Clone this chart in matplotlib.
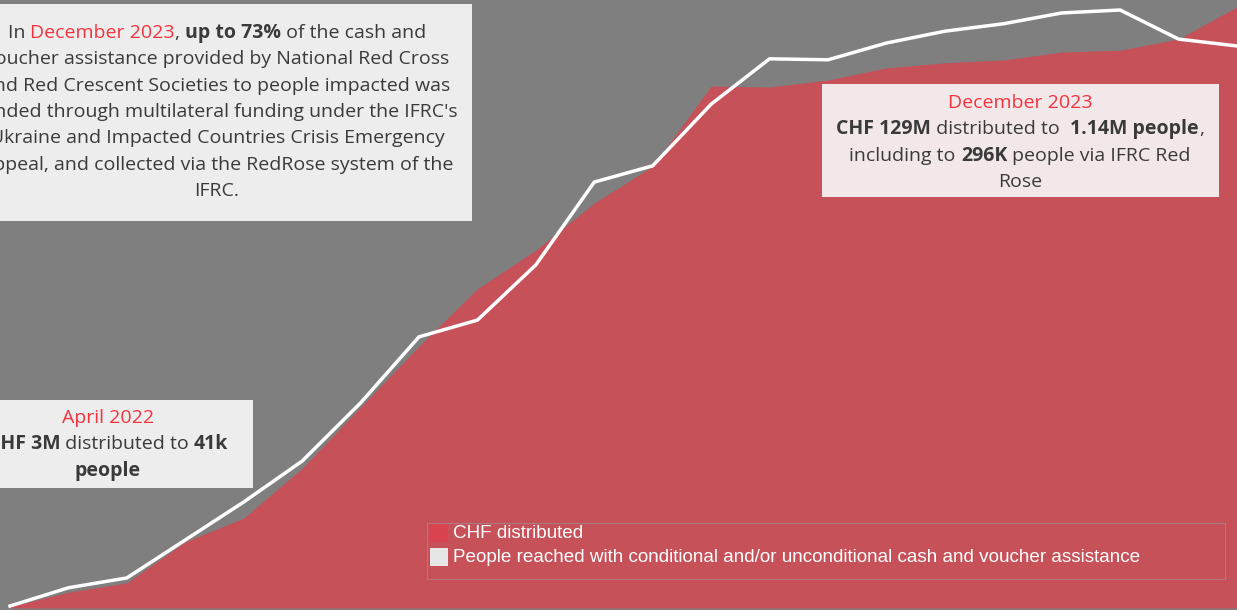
import numpy as np
import matplotlib
matplotlib.use('Agg')
import matplotlib.pyplot as plt
from matplotlib.patches import Rectangle
from matplotlib.offsetbox import TextArea, HPacker, AnnotationBbox

# monthly values, Mar 2022 .. Dec 2023
months = ['Mar 2022', 'Apr 2022', 'May 2022', 'Jun 2022', 'Jul 2022', 'Aug 2022', 'Sep 2022',
          'Oct 2022', 'Nov 2022', 'Dec 2022', 'Jan 2023', 'Feb 2023', 'Mar 2023', 'Apr 2023',
          'May 2023', 'Jun 2023', 'Jul 2023', 'Aug 2023', 'Sep 2023', 'Oct 2023', 'Nov 2023', 'Dec 2023']
chf_m = [0.3, 3.4, 5.4, 14.2, 19.3, 30.0, 43.1, 56.2, 68.5, 76.8, 86.9, 94.8, 112.0, 111.8,
         113.3, 115.9, 117.0, 117.6, 119.3, 119.7, 122.1, 129.0]
people_k = [4, 41, 61, 138, 215, 298, 416, 550, 584, 696, 864, 897, 1022, 1114, 1112, 1146,
            1170, 1185, 1207, 1213, 1154, 1140]

GRAY = '#7f7f7f'
AREA = '#c65159'
RED_TXT = '#f5333f'
DARK = '#3a3a3a'
FONT = 'Open Sans'

W, H = 1237, 610
fig = plt.figure(figsize=(W / 100, H / 100), dpi=100)
fig.patch.set_facecolor(GRAY)
ax = fig.add_axes([0, 0, 1, 1])
ax.set_facecolor(GRAY)
x = np.arange(len(months))
ax.fill_between(x, 0, chf_m, color=AREA, lw=0, zorder=1)
ax.set_xlim(-0.171, len(months) - 1)
ax.set_ylim(-0.43, 130.47)
ax.axis('off')

ax2 = ax.twinx()
ax2.plot(x, people_k, color='white', lw=2.5, solid_joinstyle='miter', zorder=3)
ax2.set_ylim(-4.06, 1233.3)
ax2.set_xlim(-0.171, len(months) - 1)
ax2.axis('off')


def box(x0, y0, x1, y1, color):
    # pixel coords, y measured from top
    fig.patches.append(Rectangle((x0 / W, 1 - y1 / H), (x1 - x0) / W, (y1 - y0) / H,
                                 transform=fig.transFigure, facecolor=color, lw=0, zorder=5))


def rich_line(parts, cx, cy, fs=14):
    kids = [TextArea(t, textprops=dict(color=c, fontweight=wt, fontsize=fs, family=FONT))
            for t, c, wt in parts]
    hp = HPacker(children=kids, align='baseline', pad=0, sep=0)
    ab = AnnotationBbox(hp, (cx, H - cy), xycoords='figure pixels', box_alignment=(0.5, 0.5),
                        frameon=False, pad=0, zorder=6)
    fig.add_artist(ab)


N = 'normal'
B = 'bold'

# top-left note
box(-38, 4, 472, 221, '#ededed')
top_lines = [
    [('In ', DARK, N), ('December 2023', RED_TXT, N), (', ', DARK, N), ('up to 73%', DARK, B),
     (' of the cash and', DARK, N)],
    [('voucher assistance provided by National Red Cross', DARK, N)],
    [('and Red Crescent Societies to people impacted was', DARK, N)],
    [("funded through multilateral funding under the IFRC's", DARK, N)],
    [('Ukraine and Impacted Countries Crisis Emergency', DARK, N)],
    [('Appeal, and collected via the RedRose system of the', DARK, N)],
    [('IFRC.', DARK, N)],
]
for i, ln in enumerate(top_lines):
    rich_line(ln, 217, 33 + i * 26.3)

# December 2023 callout
box(822, 84, 1219, 197, '#f2e8e9')
dec_lines = [
    [('December 2023', RED_TXT, N)],
    [('CHF 129M', DARK, B), (' distributed to  ', DARK, N), ('1.14M people', DARK, B), (',', DARK, N)],
    [('including to ', DARK, N), ('296K', DARK, B), (' people via IFRC Red', DARK, N)],
    [('Rose', DARK, N)],
]
for i, ln in enumerate(dec_lines):
    rich_line(ln, 1020, 103 + i * 26.3)

# April 2022 callout
box(-37, 400, 253, 488, '#ededed')
apr_lines = [
    [('April 2022', RED_TXT, N)],
    [('CHF 3M', DARK, B), (' distributed to ', DARK, N), ('41k', DARK, B)],
    [('people', DARK, B)],
]
for i, ln in enumerate(apr_lines):
    rich_line(ln, 108, 418 + i * 26.3)

# legend
fig.patches.append(Rectangle((427 / W, 1 - 579 / H), (1225 - 427) / W, (579 - 523) / H,
                             transform=fig.transFigure, facecolor='none', edgecolor='#b2787d',
                             lw=0.7, zorder=5))
fig.add_artist(plt.Line2D([427 / W, 1225 / W], [1 - 523 / H] * 2, transform=fig.transFigure,
                          color='#8c8c8c', lw=0.8, zorder=5))
leg = [('CHF distributed', '#d9434f', 533),
       ('People reached with conditional and/or unconditional cash and voucher assistance', '#e6e6e6', 557)]
for label, col, yc in leg:
    fig.patches.append(Rectangle((430 / W, 1 - (yc + 9) / H), 18 / W, 18 / H,
                                 transform=fig.transFigure, facecolor=col, lw=0, zorder=6))
    fig.text(453 / W, 1 - yc / H, label, color='white', fontsize=13.6,
             family='Liberation Sans', va='center', ha='left', zorder=6)

fig.savefig('out.png', dpi=100, facecolor=GRAY)
